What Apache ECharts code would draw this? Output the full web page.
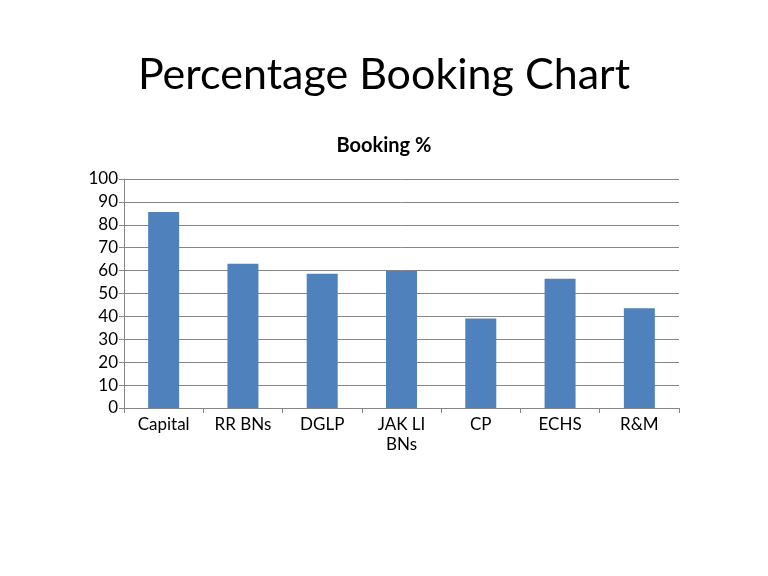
<!DOCTYPE html>
<html>
<head>
<meta charset="utf-8">
<script src="https://cdn.jsdelivr.net/npm/echarts@6/dist/echarts.min.js"></script>
<style>
  html, body { margin: 0; padding: 0; background: #fff; }
  #chart { width: 768px; height: 576px; }
</style>
</head>
<body>
<div id="chart"></div>
<script>
const categories = ['Capital', 'RR BNs', 'DGLP', 'JAK LI\nBNs', 'CP', 'ECHS', 'R&M'];
const bookingPct = [85.6, 63.0, 58.6, 59.9, 39.1, 56.4, 43.6];
const yTicks = { min: 0, max: 100, interval: 10 };

const chart = echarts.init(document.getElementById('chart'));
chart.setOption({
    backgroundColor: '#fff',
    textStyle: { fontFamily: 'Lato' },
    title: [{
        text: 'Percentage Booking Chart',
        left: 'center',
        top: 49,
        textStyle: { fontFamily: 'Lato', fontSize: 43, fontWeight: 'normal', color: '#000' }
    }, {
        text: 'Booking %',
        left: 'center',
        top: 131,
        textStyle: { fontFamily: 'Lato', fontSize: 20, fontWeight: 'bold', color: '#000' }
    }],
    grid: { left: 124, right: 89, top: 179, bottom: 168 },
    xAxis: {
        type: 'category',
        data: categories,
        axisLine: { lineStyle: { color: '#868686' } },
        axisTick: { show: true, alignWithLabel: false, length: 5, lineStyle: { color: '#868686' } },
        axisLabel: { color: '#000', fontSize: 17, margin: 7, lineHeight: 20, interval: 0 }
    },
    yAxis: {
        type: 'value',
        min: yTicks.min,
        max: yTicks.max,
        interval: yTicks.interval,
        axisLine: { show: true, lineStyle: { color: '#868686' } },
        axisTick: { show: true, length: 5, lineStyle: { color: '#868686' } },
        axisLabel: { color: '#000', fontSize: 17, margin: 6 },
        splitLine: { lineStyle: { color: '#868686' } }
    },
    series: [{
        name: 'Booking %',
        type: 'bar',
        data: bookingPct,
        barWidth: 31,
        itemStyle: { color: '#4F81BD' }
    }]
});
</script>
</body>
</html>
